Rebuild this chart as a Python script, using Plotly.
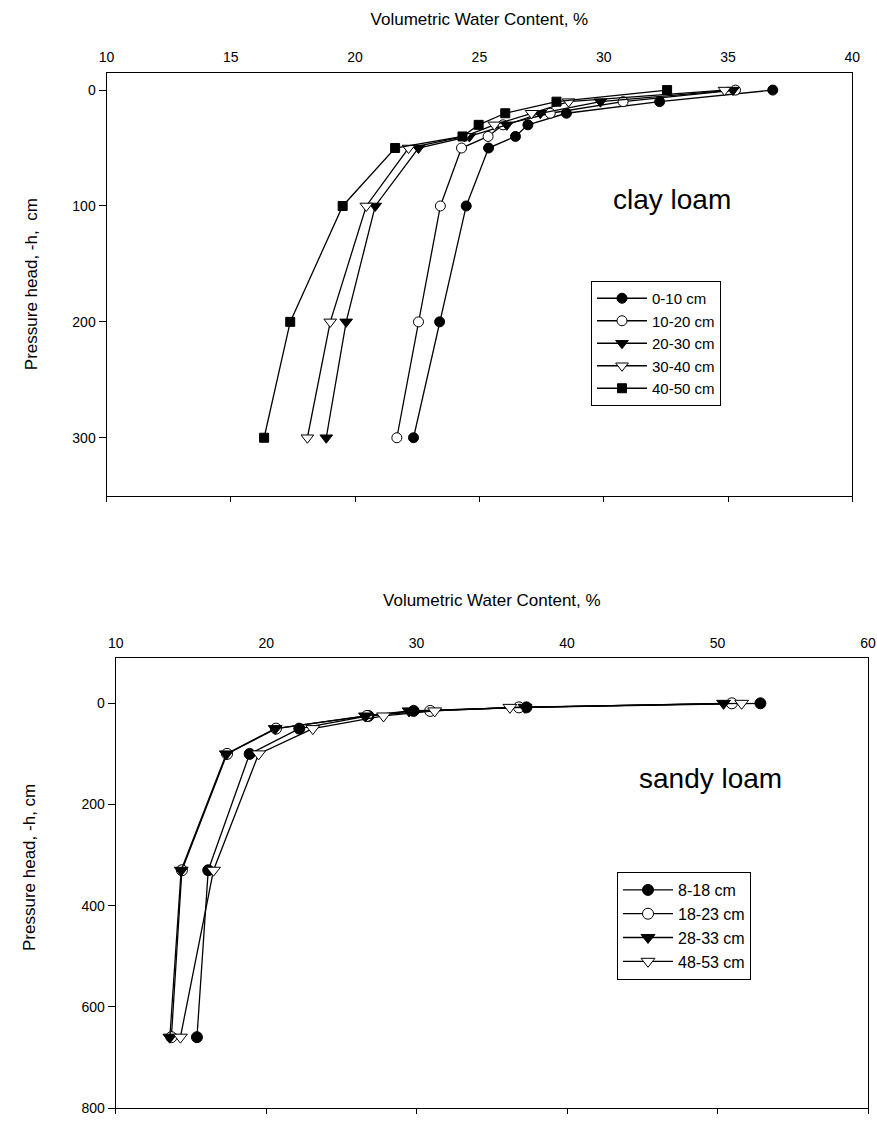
import plotly.graph_objects as go

# ---------------- data: clay loam ----------------
heads_clay = [0, 10, 20, 30, 40, 50, 100, 200, 300]
clay_labels = ["0-10 cm", "10-20 cm", "20-30 cm", "30-40 cm", "40-50 cm"]
clay_0_10 = [36.8, 32.25, 28.5, 26.95, 26.45, 25.37, 24.47, 23.4, 22.35]
clay_10_20 = [35.3, 30.78, 27.85, 25.95, 25.35, 24.28, 23.43, 22.55, 21.68]
clay_20_30 = [35.2, 29.87, 27.45, 26.1, 24.6, 22.55, 20.81, 19.64, 18.84]
clay_30_40 = [34.86, 28.59, 27.1, 25.6, 24.4, 22.15, 20.45, 19.0, 18.08]
clay_40_50 = [32.55, 28.1, 26.04, 24.97, 24.32, 21.61, 19.5, 17.39, 16.34]

# ---------------- data: sandy loam ----------------
heads_sandy = [0, 8, 15, 25, 50, 100, 330, 660]
sandy_labels = ["8-18 cm", "18-23 cm", "28-33 cm", "48-53 cm"]
sandy_8_18 = [52.85, 37.3, 29.8, 26.8, 22.2, 18.9, 16.15, 15.4]
sandy_18_23 = [50.95, 36.8, 30.9, 26.7, 20.65, 17.4, 14.4, 13.7]
sandy_28_33 = [50.4, 37.2, 29.5, 26.6, 20.6, 17.35, 14.35, 13.6]
sandy_48_53 = [51.6, 36.2, 31.2, 27.8, 23.1, 19.5, 16.5, 14.3]

clay_ticks = [10, 15, 20, 25, 30, 35, 40]
clay_yticks = [0, 100, 200, 300]
sandy_ticks = [10, 20, 30, 40, 50, 60]
sandy_yticks = [0, 200, 400, 600, 800]

FONT = "Liberation Sans, Arial, sans-serif"

styles = [
    dict(symbol="circle", color="black", size=10),
    dict(symbol="circle", color="white", size=10),
    dict(symbol="triangle-down", color="black", size=11),
    dict(symbol="triangle-down", color="white", size=11),
    dict(symbol="square", color="black", size=9),
]

fig = go.Figure()

clay_series = [clay_0_10, clay_10_20, clay_20_30, clay_30_40, clay_40_50]
for name, vals, st in zip(clay_labels, clay_series, styles):
    fig.add_trace(go.Scatter(
        x=vals, y=heads_clay, name=name, mode="lines+markers",
        xaxis="x", yaxis="y", legend="legend",
        line=dict(color="black", width=1.3),
        marker=dict(symbol=st["symbol"], size=st["size"], color=st["color"],
                    line=dict(color="black", width=1)),
    ))

sandy_series = [sandy_8_18, sandy_18_23, sandy_28_33, sandy_48_53]
for name, vals, st in zip(sandy_labels, sandy_series, styles[:4]):
    fig.add_trace(go.Scatter(
        x=vals, y=heads_sandy, name=name, mode="lines+markers",
        xaxis="x2", yaxis="y2", legend="legend2",
        line=dict(color="black", width=1.3),
        marker=dict(symbol=st["symbol"], size=st["size"] + 1, color=st["color"],
                    line=dict(color="black", width=1)),
    ))

# helper traces so the bottom (tick-only) axes get drawn
fig.add_trace(go.Scatter(x=[None], y=[None], xaxis="x3", yaxis="y",
                         showlegend=False, hoverinfo="skip"))
fig.add_trace(go.Scatter(x=[None], y=[None], xaxis="x4", yaxis="y2",
                         showlegend=False, hoverinfo="skip"))

axis_common = dict(showgrid=False, zeroline=False, showline=True, automargin=False,
                   linecolor="black", linewidth=1,
                   tickfont=dict(family=FONT, size=14, color="black"))

top_dom_x = [106.5 / 877, 852.3 / 877]
top_dom_y = [1 - 495.7 / 1122, 1 - 72.7 / 1122]
bot_dom_x = [115.7 / 877, 868 / 877]
bot_dom_y = [1 - 1108 / 1122, 1 - 658.3 / 1122]

title_font = dict(family=FONT, size=17, color="black")

fig.update_layout(
    template="none",
    width=877, height=1122,
    margin=dict(l=0, r=0, t=0, b=0, pad=0),
    paper_bgcolor="white", plot_bgcolor="white",
    showlegend=True,
    xaxis=dict(domain=top_dom_x, anchor="y", side="top", range=[10, 40],
               tickvals=clay_ticks, ticks="", ticklabelstandoff=4,
               title=dict(text="Volumetric Water Content, %", font=title_font, standoff=19),
               **axis_common),
    xaxis3=dict(overlaying="x", anchor="y", side="bottom", range=[10, 40],
                tickvals=clay_ticks, ticks="outside", ticklen=5, tickcolor="black",
                showticklabels=False, **axis_common),
    yaxis=dict(domain=top_dom_y, anchor="x", range=[350, -15],
               tickvals=clay_yticks, ticks="outside", ticklen=7,
               tickcolor="black", mirror=True,
               title=dict(text="Pressure head, -h,  cm", font=title_font, standoff=30),
               **axis_common),
    xaxis2=dict(domain=bot_dom_x, anchor="y2", side="top", range=[10, 60],
                tickvals=sandy_ticks, ticks="", ticklabelstandoff=4,
                title=dict(text="Volumetric Water Content, %", font=title_font, standoff=23),
                **axis_common),
    xaxis4=dict(overlaying="x2", anchor="y2", side="bottom", range=[10, 60],
                tickvals=sandy_ticks, ticks="outside", ticklen=5, tickcolor="black",
                showticklabels=False, **axis_common),
    yaxis2=dict(domain=bot_dom_y, anchor="x2", range=[800, -89],
                tickvals=sandy_yticks, ticks="outside", ticklen=7,
                tickcolor="black", mirror=True, **axis_common),
    legend=dict(x=591 / 877, y=1 - 281 / 1122, xanchor="left", yanchor="top",
                bordercolor="black", borderwidth=1, bgcolor="white",
                font=dict(family=FONT, size=15, color="black"),
                itemwidth=50, tracegroupgap=0),
    legend2=dict(x=617 / 877, y=1 - 872 / 1122, xanchor="left", yanchor="top",
                 bordercolor="black", borderwidth=1, bgcolor="white",
                 font=dict(family=FONT, size=16, color="black"),
                 itemwidth=50, tracegroupgap=0),
    annotations=[
        dict(text="clay loam", x=672 / 877, y=1 - 200 / 1122, xref="paper", yref="paper",
             xanchor="center", yanchor="middle", showarrow=False,
             font=dict(family=FONT, size=28, color="black")),
        dict(text="sandy loam", x=710 / 877, y=1 - 778 / 1122, xref="paper", yref="paper",
             xanchor="center", yanchor="middle", showarrow=False,
             font=dict(family=FONT, size=28, color="black")),
        dict(text="Pressure head, -h, cm", x=30 / 877, y=1 - 868 / 1122,
             xref="paper", yref="paper", xanchor="center", yanchor="middle",
             textangle=-90, showarrow=False, font=title_font),
    ],
)

fig.write_html("out.html")
